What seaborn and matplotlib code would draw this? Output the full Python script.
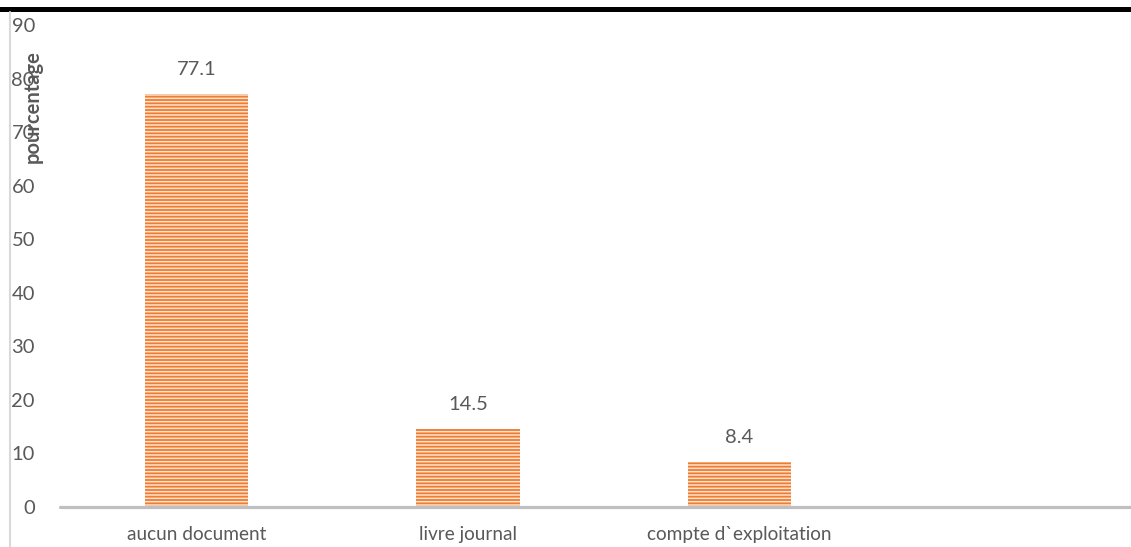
import matplotlib
matplotlib.use("Agg")
import matplotlib.pyplot as plt
import seaborn as sns
import pandas as pd
from matplotlib.patches import Rectangle
from matplotlib.lines import Line2D

categories = ["aucun document", "livre journal", "compte d`exploitation"]
values = [77.1, 14.5, 8.4]
yticks = [0, 10, 20, 30, 40, 50, 60, 70, 80, 90]
ylabel = "pourcentage"

TEXT = "#595959"
ORANGE = "#ED7D31"
STRIPE = "#FCE2D0"
AXIS = "#BFBFBF"

sns.set_style("white")
plt.rcParams["font.family"] = ["Lato", "DejaVu Sans"]
plt.rcParams["hatch.linewidth"] = 1.1

W, H = 1131, 547
fig = plt.figure(figsize=(W / 100, H / 100), dpi=100)
ax = fig.add_axes([60 / W, (H - 507) / H, 1 - 60 / W, (507 - 25) / H])

df = pd.DataFrame({"cat": categories, "val": values})
sns.barplot(data=df, x="cat", y="val", ax=ax, color=ORANGE, width=0.38,
            saturation=1, edgecolor=STRIPE, linewidth=0)
for bar in ax.patches:
    bar.set_hatch("-----")
    bar.set_edgecolor(STRIPE)
    bar.set_linewidth(0)

ax.set_xlim(-0.503, 3.442)
ax.set_ylim(0, 90)
ax.set_yticks(yticks)
ax.set_yticklabels([str(t) for t in yticks])
for s in ax.spines.values():
    s.set_visible(False)
ax.tick_params(axis="y", length=0, pad=18, labelsize=14.5, labelcolor=TEXT)
ax.tick_params(axis="x", length=0, pad=14, labelsize=13.7, labelcolor=TEXT)
ax.set_xlabel("")
ax.set_ylabel("")
ax.axhline(0, color=AXIS, lw=2.3, zorder=3, clip_on=False)

for i, v in enumerate(values):
    ax.annotate(f"{v}", (i, v), xytext=(0, 18), textcoords="offset points",
                ha="center", va="center", fontsize=14.5, color=TEXT)

fig.text(33 / W, 1 - 107 / H, ylabel, rotation=90, ha="center", va="center",
         fontsize=14.5, fontweight="bold", color=TEXT)

# page decorations: dark top rule and light left border
fig.add_artist(Rectangle((0, 1 - 12 / H), 1, 5 / H, transform=fig.transFigure,
                         color="black", lw=0))
fig.add_artist(Line2D([9.5 / W, 9.5 / W], [0, 1 - 12 / H], transform=fig.transFigure,
                      color="#D9D9D9", lw=1.5))

fig.savefig("out.png", dpi=100)
